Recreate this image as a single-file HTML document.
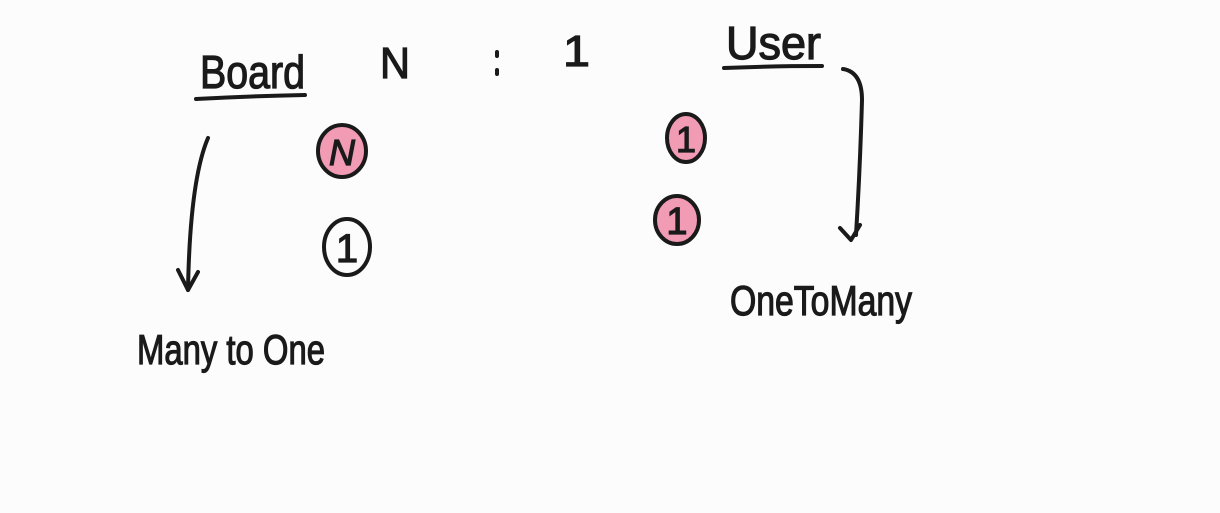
<!DOCTYPE html>
<html><head><meta charset="utf-8"><style>
html,body{margin:0;padding:0;background:#fcfcfc;}
svg{display:block}
text{font-family:"Liberation Sans",sans-serif;fill:#1a1a1a;stroke:#1a1a1a;stroke-width:1.2}
</style></head><body>
<svg width="1220" height="513" viewBox="0 0 1220 513">
<rect width="1220" height="513" fill="#fcfcfc"/>
<g fill="none" stroke="#1a1a1a" stroke-width="4" stroke-linecap="round" stroke-linejoin="round">
<path d="M196 99 Q250 96 305 95"/>
<path d="M724 68 Q770 66 822 66"/>
<path d="M843 69 Q862 72 862 100 Q860 170 856 235"/>
<path d="M840 228 L851 240 L860 225"/>
<path d="M208 138 Q190 180 188 290"/>
<path d="M178 270 L188 290 L198 272"/>
<path d="M497 52 L497 56 M497 70 L497 74"/>
</g>
<ellipse cx="342" cy="151" rx="24" ry="26" fill="#f29bb5" stroke="#1a1a1a" stroke-width="4"/>
<ellipse cx="347" cy="247" rx="23" ry="28" fill="none" stroke="#1a1a1a" stroke-width="4"/>
<ellipse cx="686" cy="138" rx="19" ry="24" fill="#f29bb5" stroke="#1a1a1a" stroke-width="4"/>
<ellipse cx="677" cy="220" rx="22" ry="24" fill="#f29bb5" stroke="#1a1a1a" stroke-width="4"/>
<text x="342" y="165" font-size="36" text-anchor="middle" font-style="italic">N</text>
<text x="347" y="262" font-size="40" text-anchor="middle">1</text>
<text x="686" y="152" font-size="36" text-anchor="middle">1</text>
<text x="677" y="234" font-size="38" text-anchor="middle">1</text>
<text x="200" y="88" font-size="46" textLength="105" lengthAdjust="spacingAndGlyphs">Board</text>
<text x="380" y="78" font-size="44" textLength="30" lengthAdjust="spacingAndGlyphs">N</text>
<text x="563" y="66" font-size="44" textLength="27" lengthAdjust="spacingAndGlyphs" stroke-width="0.5">1</text>
<text x="726" y="59" font-size="46" textLength="95" lengthAdjust="spacingAndGlyphs">User</text>
<text x="730" y="315" font-size="42" textLength="182" lengthAdjust="spacingAndGlyphs">OneToMany</text>
<text x="137" y="364" font-size="42" textLength="188" lengthAdjust="spacingAndGlyphs">Many to One</text>
</svg>
</body></html>
